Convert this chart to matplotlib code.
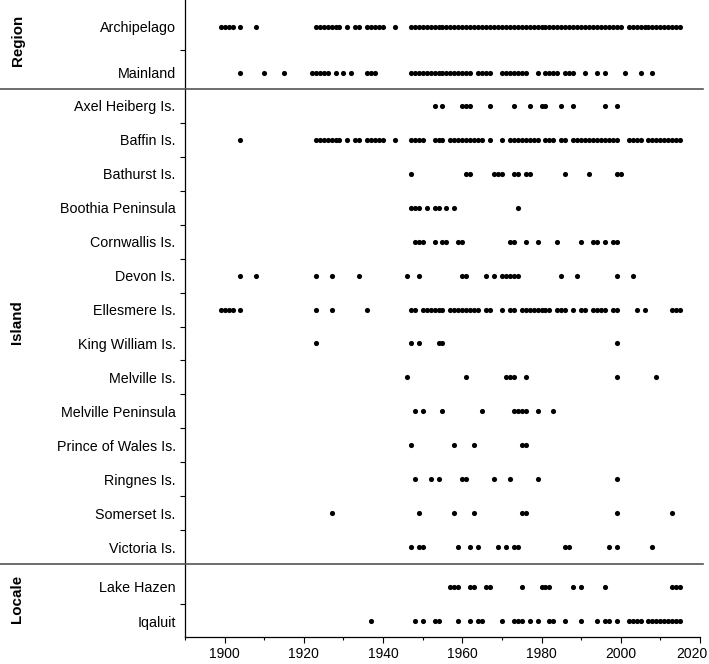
import matplotlib
matplotlib.use("Agg")
import matplotlib.pyplot as plt
from matplotlib.lines import Line2D
from matplotlib.transforms import ScaledTranslation

plt.rcParams['font.family'] = ['Liberation Sans', 'DejaVu Sans']

# ---------------- data (years with records) ----------------
region_labels = ["Archipelago", "Mainland"]
island_labels = ["Axel Heiberg Is.", "Baffin Is.", "Bathurst Is.", "Boothia Peninsula",
                 "Cornwallis Is.", "Devon Is.", "Ellesmere Is.", "King William Is.",
                 "Melville Is.", "Melville Peninsula", "Prince of Wales Is.", "Ringnes Is.",
                 "Somerset Is.", "Victoria Is."]
locale_labels = ["Lake Hazen", "Iqaluit"]

archipelago = [1899, 1900, 1901, 1902, 1904, 1908, 1923, 1924, 1925, 1926, 1927, 1928, 1929,
               1931, 1933, 1934, 1936, 1937, 1938, 1939, 1940, 1943,
               1947, 1948, 1949, 1950, 1951, 1952, 1953, 1954, 1955, 1956, 1957, 1958, 1959,
               1960, 1961, 1962, 1963, 1964, 1965, 1966, 1967, 1968, 1969, 1970, 1971, 1972,
               1973, 1974, 1975, 1976, 1977, 1978, 1979, 1980, 1981, 1982, 1983, 1984, 1985,
               1986, 1987, 1988, 1989, 1990, 1991, 1992, 1993, 1994, 1995, 1996, 1997, 1998,
               1999, 2000, 2002, 2003, 2004, 2005, 2006, 2007, 2008, 2009, 2010, 2011, 2012,
               2013, 2014, 2015]
mainland = [1904, 1910, 1915, 1922, 1923, 1924, 1925, 1926, 1928, 1930, 1932, 1936, 1937, 1938,
            1947, 1948, 1949, 1950, 1951, 1952, 1953, 1954, 1955, 1956, 1957, 1958, 1959, 1960,
            1961, 1962, 1964, 1965, 1966, 1967, 1970, 1971, 1972, 1973, 1974, 1975, 1976, 1979,
            1981, 1982, 1983, 1984, 1986, 1987, 1988, 1991, 1994, 1996, 2001, 2005, 2008]

axel_heiberg = [1953, 1955, 1960, 1961, 1962, 1967, 1973, 1977, 1980, 1981, 1985, 1988, 1996, 1999]
baffin = [1904, 1923, 1924, 1925, 1926, 1927, 1928, 1929, 1931, 1933, 1934, 1936, 1937, 1938,
          1939, 1940, 1943, 1947, 1948, 1949, 1950, 1953, 1954, 1955, 1957, 1958, 1959, 1960,
          1961, 1962, 1963, 1964, 1965, 1967, 1970, 1972, 1973, 1974, 1975, 1976, 1977, 1978,
          1979, 1981, 1982, 1983, 1985, 1986, 1988, 1989, 1990, 1991, 1992, 1993, 1994, 1995,
          1996, 1997, 1998, 1999, 2002, 2003, 2004, 2005, 2007, 2008, 2009, 2010, 2011, 2012,
          2013, 2014, 2015]
bathurst = [1947, 1961, 1962, 1968, 1969, 1970, 1973, 1974, 1976, 1977, 1986, 1992, 1999, 2000]
boothia = [1947, 1948, 1949, 1951, 1953, 1954, 1956, 1958, 1974]
cornwallis = [1948, 1949, 1950, 1953, 1955, 1956, 1959, 1960, 1972, 1973, 1976, 1979, 1984,
              1990, 1993, 1994, 1996, 1998, 1999]
devon = [1904, 1908, 1923, 1927, 1934, 1946, 1949, 1960, 1961, 1966, 1968, 1970, 1971, 1972,
         1973, 1974, 1985, 1989, 1999, 2003]
ellesmere = [1899, 1900, 1901, 1902, 1904, 1923, 1927, 1936, 1947, 1948, 1950, 1951, 1952, 1953,
             1954, 1955, 1957, 1958, 1959, 1960, 1961, 1962, 1963, 1964, 1966, 1967, 1970, 1972,
             1973, 1975, 1976, 1977, 1978, 1979, 1980, 1981, 1982, 1984, 1985, 1986, 1988, 1990,
             1991, 1993, 1994, 1995, 1996, 1998, 1999, 2004, 2006, 2013, 2014, 2015]
king_william = [1923, 1947, 1949, 1954, 1955, 1999]
melville_is = [1946, 1961, 1971, 1972, 1973, 1976, 1999, 2009]
melville_pen = [1948, 1950, 1955, 1965, 1973, 1974, 1975, 1976, 1979, 1983]
prince_of_wales = [1947, 1958, 1963, 1975, 1976]
ringnes = [1948, 1952, 1954, 1960, 1961, 1968, 1972, 1979, 1999]
somerset = [1927, 1949, 1958, 1963, 1975, 1976, 1999, 2013]
victoria = [1947, 1949, 1950, 1959, 1962, 1964, 1969, 1971, 1973, 1974, 1986, 1987, 1997, 1999, 2008]

lake_hazen = [1957, 1958, 1959, 1962, 1963, 1966, 1967, 1975, 1980, 1981, 1982, 1988, 1990,
              1996, 2013, 2014, 2015]
iqaluit = [1937, 1948, 1950, 1953, 1954, 1959, 1962, 1964, 1965, 1970, 1973, 1974, 1975, 1977,
           1979, 1982, 1983, 1986, 1990, 1994, 1996, 1997, 1999, 2002, 2003, 2004, 2005, 2007,
           2008, 2009, 2010, 2011, 2012, 2013, 2014, 2015]

region_data = [archipelago, mainland]
island_data = [axel_heiberg, baffin, bathurst, boothia, cornwallis, devon, ellesmere,
               king_william, melville_is, melville_pen, prince_of_wales, ringnes, somerset, victoria]
locale_data = [lake_hazen, iqaluit]

group_names = ["Region", "Island", "Locale"]
x_ticks = [1900, 1920, 1940, 1960, 1980, 2000, 2020]

# ---------------- layout ----------------
W, H = 709, 664
fig = plt.figure(figsize=(W / 100, H / 100), dpi=100)
gs = fig.add_gridspec(3, 1, left=185 / W, right=700 / W, top=1.0, bottom=1 - 637 / H,
                      hspace=0, height_ratios=[89, 475, 73])
axes = [fig.add_subplot(gs[i]) for i in range(3)]

groups = [(region_labels, region_data, (1.348, -0.587)),
          (island_labels, island_data, (13.5, -0.5)),
          (locale_labels, locale_data, (1.47, -0.676))]

for k, (ax, (labels, data, ylim)) in enumerate(zip(axes, groups)):
    for i, yrs in enumerate(data):
        ax.plot(yrs, [i] * len(yrs), linestyle='none', marker='o', ms=3.7,
                color='black', mew=0, clip_on=False)
    ax.set_xlim(1890, 2020)
    ax.set_ylim(*ylim)
    ax.set_yticks(range(len(labels)))
    ax.set_yticklabels(labels, fontsize=10.3)
    ax.set_yticks([i + 0.5 for i in range(len(labels) - 1)], minor=True)
    ax.tick_params(axis='y', which='major', length=0, pad=6.7)
    ax.tick_params(axis='y', which='minor', length=3.6, width=0.8, direction='out')
    ax.spines['top'].set_visible(False)
    ax.spines['right'].set_visible(False)
    ax.spines['left'].set_linewidth(0.9)
    if k < 2:
        ax.spines['bottom'].set_visible(False)
        ax.tick_params(axis='x', which='both', bottom=False, labelbottom=False)
    else:
        ax.spines['bottom'].set_linewidth(0.9)
        ax.set_xticks(x_ticks)
        ax.set_xticks([t + 10 for t in x_ticks[:-1]] + [1890], minor=True)
        ax.tick_params(axis='x', which='major', length=4, width=0.8, labelsize=10, pad=3.5)
        ax.tick_params(axis='x', which='minor', length=2.4, width=0.8)
        # keep the last tick label inside the figure, as in the reference
        last = ax.get_xticklabels()[-1]
        last.set_transform(last.get_transform() + ScaledTranslation(-8 / 100, 0, fig.dpi_scale_trans))

# separators between groups
for ypix in (89, 564):
    fig.add_artist(Line2D([0, 703 / W], [1 - ypix / H] * 2, transform=fig.transFigure,
                          color='#555555', lw=1.2))

# group labels
for name, ypix in zip(group_names, (40, 322, 599)):
    fig.text(17.5 / W, 1 - ypix / H, name, rotation=90, ha='center', va='center',
             fontsize=10.9, fontweight='bold')

fig.savefig("out.png", dpi=100)
